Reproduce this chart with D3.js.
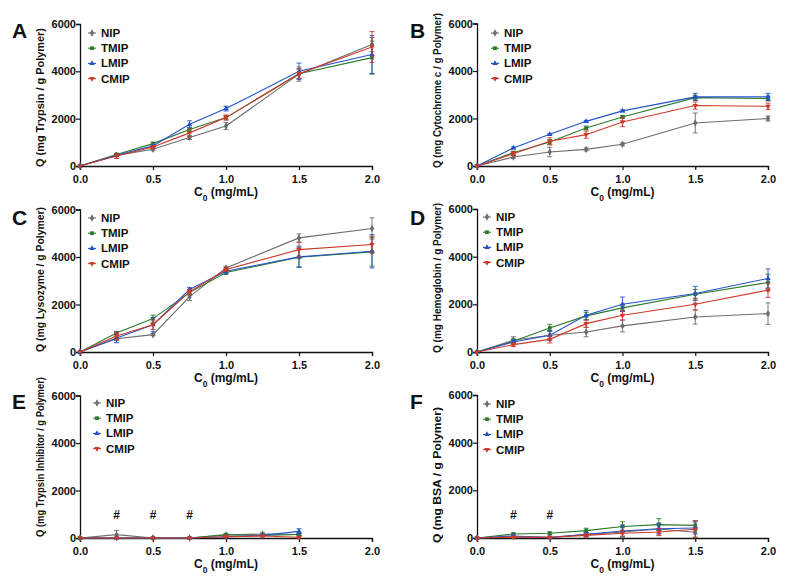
<!DOCTYPE html>
<html><head><meta charset="utf-8">
<script src="https://cdn.jsdelivr.net/npm/d3@7/dist/d3.min.js"></script>
<style>
body{margin:0;background:#fff;}
text{font-family:"Liberation Sans",Arial,sans-serif;font-weight:bold;fill:#111;}
</style></head><body>
<svg id="chart" width="800" height="583"></svg>
<script>
// ---------- DATA ----------
const seriesNames = ["NIP", "TMIP", "LMIP", "CMIP"];
const concHigh = [0, 0.25, 0.5, 0.75, 1.0, 1.5, 2.0];
const concLow = [0, 0.25, 0.5, 0.75, 1.0, 1.25, 1.5];
const xTicks = [0, 0.5, 1.0, 1.5, 2.0];
const yTicks = [0, 2000, 4000, 6000];

// rows: NIP, TMIP, LMIP, CMIP
const trypsinMean = [
  [0, 450, 705, 1200, 1690, 3880, 5130],
  [0, 490, 945, 1540, 2045, 3900, 4580],
  [0, 450, 850, 1760, 2425, 4000, 4710],
  [0, 420, 800, 1400, 2045, 3900, 5030]];
const trypsinErr = [
  [0, 50, 60, 80, 150, 300, 300],
  [0, 40, 60, 100, 100, 200, 700],
  [0, 40, 50, 150, 100, 350, 800],
  [0, 100, 60, 150, 100, 200, 650]];

const cytochromeMean = [
  [0, 380, 590, 700, 915, 1810, 2000],
  [0, 560, 1010, 1600, 2065, 2880, 2840],
  [0, 760, 1335, 1880, 2320, 2910, 2910],
  [0, 520, 1040, 1320, 1855, 2545, 2515]];
const cytochromeErr = [
  [0, 60, 200, 60, 60, 420, 100],
  [0, 60, 100, 80, 60, 100, 100],
  [0, 40, 40, 40, 40, 150, 150],
  [0, 80, 150, 150, 200, 150, 130]];

const lysozymeMean = [
  [0, 560, 730, 2320, 3540, 4805, 5200],
  [0, 800, 1405, 2500, 3345, 3990, 4215],
  [0, 590, 1150, 2630, 3400, 4005, 4240],
  [0, 675, 1150, 2530, 3470, 4310, 4525]];
const lysozymeErr = [
  [0, 80, 40, 150, 60, 170, 450],
  [0, 60, 150, 100, 80, 400, 600],
  [0, 200, 300, 80, 80, 450, 700],
  [0, 150, 200, 100, 80, 300, 350]];

const hemoglobinMean = [
  [0, 490, 700, 840, 1095, 1470, 1610],
  [0, 450, 1010, 1515, 1850, 2425, 2915],
  [0, 420, 700, 1540, 2005, 2455, 3085],
  [0, 310, 530, 1190, 1540, 2005, 2595]];
const hemoglobinErr = [
  [0, 150, 200, 200, 250, 300, 450],
  [0, 100, 150, 150, 150, 200, 350],
  [0, 100, 200, 200, 300, 300, 400],
  [0, 80, 150, 150, 200, 250, 300]];

const inhibitorMean = [
  [0, 140, 0, 0, 125, 170, 150],
  [0, 0, 0, 0, 140, 110, 150],
  [0, 0, 0, 0, 55, 110, 280],
  [0, 0, 0, 0, 55, 85, 30]];
const inhibitorErr = [
  [0, 180, 0, 0, 40, 50, 40],
  [0, 0, 0, 0, 40, 40, 40],
  [0, 0, 0, 0, 30, 30, 110],
  [0, 0, 0, 0, 30, 30, 30]];

const bsaMean = [
  [0, 55, 30, 140, 250, 380, 240],
  [0, 170, 200, 310, 480, 560, 530],
  [0, 85, 15, 155, 295, 390, 420],
  [0, 40, 30, 110, 200, 250, 365]];
const bsaErr = [
  [0, 40, 40, 100, 200, 250, 200],
  [0, 40, 60, 100, 200, 250, 200],
  [0, 40, 30, 80, 250, 200, 250],
  [0, 30, 30, 60, 120, 150, 350]];

const panelLetters = ["A", "B", "C", "D", "E", "F"];
const yLabels = ["Q (mg Trypsin / g Polymer)", "Q (mg Cytochrome c / g Polymer)",
  "Q (mg Lysozyme / g Polymer)", "Q (mg Hemoglobin / g Polymer)",
  "Q (mg Trypsin Inhibitor / g Polymer)", "Q (mg BSA / g Polymer)"];
const hashPositions = [[], [], [], [], [0.25, 0.5, 0.75], [0.25, 0.5]];
const hashLevel = 950;

// ---------- STYLE / LAYOUT ----------
const colors = ["#6d6d6d", "#2c7a2c", "#2553c7", "#cc3a2a"];
const symbols = [d3.symbolDiamond, d3.symbolSquare, d3.symbolTriangle, d3.symbolTriangle];
const symRot = [0, 0, 0, 180];
const symSize = [16, 14, 13, 13];

const panels = [
  {means: trypsinMean, errs: trypsinErr, conc: concHigh, left: 80, right: 372, top: 24, bottom: 166, legX: 92, legY: 33, letX: 12, letY: 38, labLen: 139, labBot: 167, labFont: 11.5},
  {means: cytochromeMean, errs: cytochromeErr, conc: concHigh, left: 477, right: 768, top: 23.5, bottom: 166, legX: 495, legY: 33, letX: 410, letY: 38, labLen: 155, labBot: 168, labFont: 10.2},
  {means: lysozymeMean, errs: lysozymeErr, conc: concHigh, left: 80, right: 372, top: 209.5, bottom: 352, legX: 92, legY: 218, letX: 12, letY: 225, labLen: 145, labBot: 352, labFont: 11.5},
  {means: hemoglobinMean, errs: hemoglobinErr, conc: concHigh, left: 477, right: 768, top: 209, bottom: 352, legX: 487, legY: 217, letX: 410, letY: 225, labLen: 150, labBot: 353, labFont: 11.2},
  {means: inhibitorMean, errs: inhibitorErr, conc: concLow, left: 80, right: 372, top: 395.5, bottom: 538, legX: 97, legY: 403, letX: 12, letY: 409, labLen: 160, labBot: 537, labFont: 11},
  {means: bsaMean, errs: bsaErr, conc: concLow, left: 477, right: 768, top: 395, bottom: 538, legX: 487, legY: 404, letX: 410, letY: 409, labLen: 136, labBot: 543, labFont: 11.5}
];

const svg = d3.select("#chart");

panels.forEach((p, pi) => {
  const g = svg.append("g");
  const x = d3.scaleLinear().domain([0, 2]).range([p.left, p.right]);
  const y = d3.scaleLinear().domain([0, 6000]).range([p.bottom, p.top]);

  // axes
  const xAxis = d3.axisBottom(x).tickValues(xTicks).tickFormat(d3.format(".1f")).tickSizeOuter(0).tickSize(4);
  const yAxis = d3.axisLeft(y).tickValues(yTicks).tickFormat(d => d).tickSizeOuter(0).tickSize(4);
  const gx = g.append("g").attr("transform", `translate(0,${p.bottom})`).call(xAxis);
  const gy = g.append("g").attr("transform", `translate(${p.left},0)`).call(yAxis);
  [gx, gy].forEach(a => {
    a.select(".domain").attr("stroke", "#111").attr("stroke-width", 1.3);
    a.selectAll(".tick line").attr("stroke", "#111").attr("stroke-width", 1.2);
    a.selectAll(".tick text").attr("fill", "#111").style("font-size", "11px").style("font-weight", "bold")
      .style("font-family", '"Liberation Sans",Arial,sans-serif');
  });
  gx.selectAll(".tick text").attr("dy", "0.9em");
  gy.selectAll(".tick text").attr("x", -4);

  // axis titles
  const xl = g.append("text").attr("x", (p.left + p.right) / 2).attr("y", p.bottom + 30)
    .attr("text-anchor", "middle").style("font-size", "12px");
  xl.append("tspan").text("C");
  xl.append("tspan").text("0").attr("baseline-shift", "sub").style("font-size", "8.5px");
  xl.append("tspan").text(" (mg/mL)");

  g.append("text").attr("transform", `translate(${p.left - 36},${p.labBot}) rotate(-90)`)
    .attr("text-anchor", "start").style("font-size", p.labFont + "px")
    .attr("textLength", p.labLen).attr("lengthAdjust", "spacingAndGlyphs").text(yLabels[pi]);

  g.append("text").attr("x", p.letX).attr("y", p.letY).style("font-size", "21px").text(panelLetters[pi]);

  // series
  p.means.forEach((vals, si) => {
    const pts = p.conc.map((c, i) => ({c, v: vals[i], e: p.errs[si][i]}));
    const sg = g.append("g");
    sg.append("path").datum(pts)
      .attr("d", d3.line().x(d => x(d.c)).y(d => y(d.v)))
      .attr("fill", "none").attr("stroke", colors[si]).attr("stroke-width", 1.1);
    pts.filter(d => d.e > 0).forEach(d => {
      const cx = x(d.c), y1 = y(d.v + d.e), y2 = y(Math.max(0, d.v - d.e));
      sg.append("line").attr("x1", cx).attr("x2", cx).attr("y1", y1).attr("y2", y2)
        .attr("stroke", colors[si]).attr("stroke-width", 0.9);
      [y1, y2].forEach(yy => sg.append("line").attr("x1", cx - 2.5).attr("x2", cx + 2.5)
        .attr("y1", yy).attr("y2", yy).attr("stroke", colors[si]).attr("stroke-width", 0.9));
    });
    sg.selectAll("path.mk").data(pts).enter().append("path").attr("class", "mk")
      .attr("d", d3.symbol().type(symbols[si]).size(symSize[si]))
      .attr("transform", d => `translate(${x(d.c)},${y(d.v)}) rotate(${symRot[si]})`)
      .attr("fill", colors[si]);
  });

  // legend
  seriesNames.forEach((name, si) => {
    const ly = p.legY + si * 15.2;
    g.append("line").attr("x1", p.legX - 4).attr("x2", p.legX + 4).attr("y1", ly).attr("y2", ly)
      .attr("stroke", colors[si]).attr("stroke-width", 1.1);
    g.append("path").attr("d", d3.symbol().type(symbols[si]).size(symSize[si]))
      .attr("transform", `translate(${p.legX},${ly}) rotate(${symRot[si]})`).attr("fill", colors[si]);
    g.append("text").attr("x", p.legX + 9).attr("y", ly + 4).style("font-size", "11.5px").text(name);
  });

  // significance marks
  hashPositions[pi].forEach(c => {
    g.append("text").attr("x", x(c)).attr("y", y(hashLevel) + 4).attr("text-anchor", "middle")
      .style("font-size", "12px").text("#");
  });
});
</script>
</body></html>
